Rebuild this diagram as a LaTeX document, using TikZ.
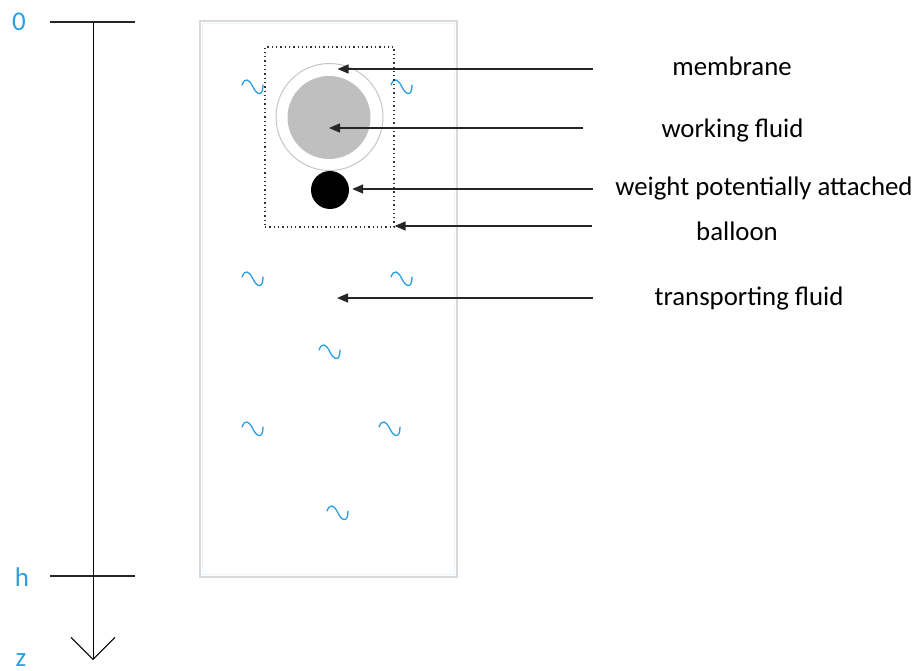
\documentclass[tikz,border=0pt]{standalone}
\usepackage{fontspec}
\setmainfont{Carlito}
\usetikzlibrary{arrows.meta, positioning}

\definecolor{axisblue}{RGB}{41,160,224}
\definecolor{fluidgray}{RGB}{191,191,191}

\begin{document}
\begin{tikzpicture}[
    x=1pt, y=-1pt,
    >={Triangle[length=11pt,width=9pt]},
    lbl/.style={font=\fontsize{26.8}{30}\selectfont, inner sep=0pt},
    axlbl/.style={text=axisblue, font=\fontsize{27}{30}\selectfont, inner sep=0pt, text depth=0pt},
    pointer/.style={->, line width=1.4pt, draw=black!85},
    tick/.style={line width=1.4pt, draw=black!85},
    tank/.style={rectangle, draw=gray!30, line width=1.2pt, fill=white, inner sep=0pt},
    balloonbox/.style={rectangle, draw=black!80, line width=1.3pt, dash pattern=on 1.3pt off 3pt, inner sep=0pt},
    wave/.style={draw=axisblue, line width=1.3pt, line cap=round},
    wavy/.pic={\draw[wave] (-11,-2) .. controls (-8,-10) and (-4,-8) .. (0,0) .. controls (3,7) and (10,11) .. (10,-2);}
  ]
  \useasboundingbox (0,0) rectangle (917,671);

  % depth axis
  \coordinate (top) at (93,22);
  \coordinate (hpos) at (93,576);
  \coordinate (bot) at (93,660);
  \draw[line width=0.9pt, -{Straight Barb[length=22pt,width=44pt,line width=0.9pt]}] (top) -- (bot);
  \draw[tick] ([xshift=-43pt]top) -- ([xshift=42pt]top);
  \draw[tick] ([xshift=-43pt]hpos) -- ([xshift=42pt]hpos);
  \node[axlbl] (zero) at (19,22) {0};
  \node[axlbl] (hlab) at (22,577) {h};
  \node[axlbl, anchor=base] (zlab) at (21,666) {z};

  % tank with transporting fluid
  \node[tank, minimum width=257pt, minimum height=556pt] (tank) at (328.5,299) {};
  \draw[axisblue!10, line width=1pt] (202.5,23.5) rectangle (454.5,574.5);
  \foreach \px/\py in {253/87, 402/87, 253/279, 402/279, 330/352, 253/429, 390/429, 338/513}
    \pic at (\px,\py) {wavy};

  % balloon
  \node[balloonbox, minimum width=129pt, minimum height=180pt] (balloon) at (329.5,137) {};
  \node[circle, draw=gray!45, line width=1pt, fill=white, minimum size=107pt, inner sep=0pt] (memb) at (329.5,117) {};
  \node[circle, fill=fluidgray, minimum size=83pt, inner sep=0pt] (fluid) at (329,117.5) {};
  \node[circle, fill=black, minimum size=38pt, inner sep=0pt] (weight) at (330,190) {};

  % labels
  \node[lbl] (lmemb) at (732,66) {membrane};
  \node[lbl] (lfluid) at (732.5,130) {working fluid};
  \node[lbl] (lweight) at (764,188) {weight potentially attached};
  \node[lbl] (lballoon) at (737,231) {balloon};
  \node[lbl] (ltrans) at (749,298) {transporting fluid};

  \coordinate (tmemb) at (593,69);
  \coordinate (tfluid) at (583,128);
  \coordinate (tweight) at (593,189);
  \coordinate (tballoon) at (592,226);
  \coordinate (ttrans) at (593,298);
  \draw[pointer] (tmemb) -- ([xshift=8pt]tmemb -| memb.center);
  \draw[pointer] (tfluid) -- (tfluid -| fluid.center);
  \draw[pointer] (tweight) -- ([xshift=3pt]tweight -| weight.east);
  \draw[pointer] (tballoon) -- (tballoon -| balloon.east);
  \draw[pointer] (ttrans) -- ([xshift=8pt]ttrans -| fluid.center);
\end{tikzpicture}
\end{document}
